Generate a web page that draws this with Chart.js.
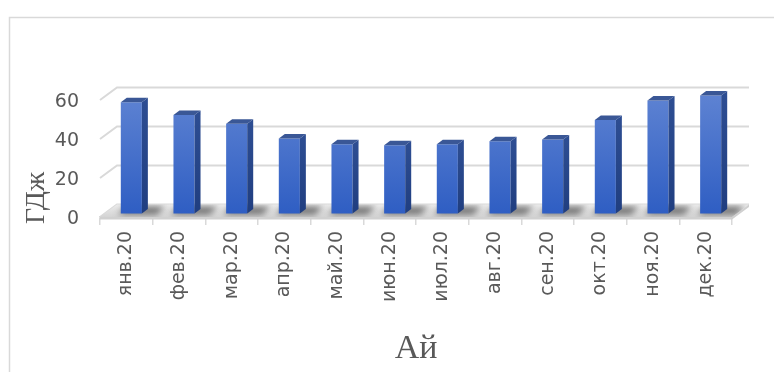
<!DOCTYPE html>
<html>
<head>
<meta charset="utf-8">
<script src="https://cdn.jsdelivr.net/npm/chart.js@4.4.1/dist/chart.umd.min.js"></script>
<style>
  html, body { margin: 0; background: #fff; }
</style>
</head>
<body>
<canvas id="chart" width="774" height="372"></canvas>
<script>
const months = ['янв.20', 'фев.20', 'мар.20', 'апр.20', 'май.20', 'июн.20',
                'июл.20', 'авг.20', 'сен.20', 'окт.20', 'ноя.20', 'дек.20'];
const energy = [57, 50.5, 46, 38.5, 35.5, 35, 35.5, 37, 38, 48, 58, 60.5];
const yTicks = [0, 20, 40, 60];
const yTitle = 'ГДж';
const xTitle = 'Ай';

// fake 3d: offsets of the back wall and of the bar slab from the front plane
const WALL = { dx: 17, dy: -12.5 };
const BAR_FRONT = { dx: 5, dy: -3.5 };
const BAR_DEPTH = { dx: 6, dy: -4.5 };
const GRID = '#d9d9d9';
const TEXT = '#595959';

const poly = (ctx, pts) => {
    ctx.beginPath();
    ctx.moveTo(pts[0][0], pts[0][1]);
    for (let i = 1; i < pts.length; i++) ctx.lineTo(pts[i][0], pts[i][1]);
    ctx.closePath();
};

const box3d = {
    id: 'box3d',
    beforeDraw(chart) {
        const ctx = chart.ctx;
        ctx.save();
        ctx.strokeStyle = GRID;
        ctx.lineWidth = 1.5;
        ctx.strokeRect(9.5, 17.5, 900, 500);
        ctx.restore();
    },
    beforeDatasetsDraw(chart) {
        const { ctx, chartArea: a, scales: { y } } = chart;
        const bottom = y.getPixelForValue(0);
        ctx.save();

        // back wall + left wall grid lines
        ctx.strokeStyle = GRID;
        ctx.lineWidth = 2;
        yTicks.forEach(v => {
            const py = y.getPixelForValue(v);
            ctx.beginPath();
            ctx.moveTo(a.left, py);
            ctx.lineTo(a.left + WALL.dx, py + WALL.dy);
            ctx.lineTo(a.right + WALL.dx, py + WALL.dy);
            ctx.stroke();
        });

        // floor
        const floor = [[a.left, bottom], [a.right, bottom],
                       [a.right + WALL.dx, bottom + WALL.dy], [a.left + WALL.dx, bottom + WALL.dy]];
        const fg = ctx.createLinearGradient(0, bottom + WALL.dy, 0, bottom);
        fg.addColorStop(0, '#ececec');
        fg.addColorStop(1, '#d4d4d4');
        ctx.fillStyle = fg;
        poly(ctx, floor);
        ctx.fill();
        ctx.fillStyle = '#d0d0d0';
        poly(ctx, [[a.left, bottom], [a.right, bottom], [a.right + WALL.dx, bottom + WALL.dy],
                   [a.right + WALL.dx, bottom + WALL.dy + 2.5], [a.right, bottom + 2.5], [a.left, bottom + 2.5]]);
        ctx.fill();

        // bar shadows on the floor
        ctx.save();
        poly(ctx, floor);
        ctx.clip();
        ctx.filter = 'blur(3px)';
        ctx.fillStyle = 'rgba(40,40,40,0.6)';
        chart.getDatasetMeta(0).data.forEach(bar => {
            const { x, width } = bar.getProps(['x', 'width'], true);
            const xl = x - width / 2 + BAR_FRONT.dx;
            const xr = x + width / 2 + BAR_FRONT.dx;
            const by = bottom + BAR_FRONT.dy;
            poly(ctx, [[xl - 3, by + 1], [xr + 15, by + 1], [xr + 23, by - 7], [xl + 5, by - 7]]);
            ctx.fill();
        });
        ctx.restore();

        ctx.restore();
        // bars' front faces are drawn by chart.js, shifted into the floor
        ctx.save();
        ctx.translate(BAR_FRONT.dx, BAR_FRONT.dy);
    },
    afterDatasetsDraw(chart) {
        const ctx = chart.ctx;
        ctx.restore();
        ctx.save();
        chart.getDatasetMeta(0).data.forEach(bar => {
            const { x, y, base, width } = bar.getProps(['x', 'y', 'base', 'width'], true);
            const l = x - width / 2 + BAR_FRONT.dx;
            const r = x + width / 2 + BAR_FRONT.dx;
            const t = y + BAR_FRONT.dy;
            const b = base + BAR_FRONT.dy;
            const sg = ctx.createLinearGradient(0, t, 0, b);
            sg.addColorStop(0, '#2d4d92');
            sg.addColorStop(1, '#203e80');
            ctx.fillStyle = sg;
            poly(ctx, [[r, t], [r + BAR_DEPTH.dx, t + BAR_DEPTH.dy], [r + BAR_DEPTH.dx, b + BAR_DEPTH.dy], [r, b]]);
            ctx.fill();
            ctx.fillStyle = '#3a5796';
            poly(ctx, [[l, t], [r, t], [r + BAR_DEPTH.dx, t + BAR_DEPTH.dy], [l + BAR_DEPTH.dx, t + BAR_DEPTH.dy]]);
            ctx.fill();
        });
        ctx.restore();
    },
    afterDraw(chart) {
        const { ctx, chartArea: a } = chart;
        ctx.save();
        ctx.fillStyle = TEXT;
        ctx.textAlign = 'center';
        ctx.textBaseline = 'middle';
        ctx.font = '28px "Liberation Serif"';
        ctx.translate(37, 198);
        ctx.rotate(-Math.PI / 2);
        ctx.fillText(yTitle, 0, 0);
        ctx.restore();
        ctx.save();
        ctx.fillStyle = TEXT;
        ctx.textAlign = 'center';
        ctx.textBaseline = 'alphabetic';
        ctx.font = '34px "Liberation Serif"';
        ctx.fillText(xTitle, (a.left + a.right) / 2, 358);
        ctx.restore();
    }
};

new Chart(document.getElementById('chart'), {
    type: 'bar',
    data: {
        labels: months,
        datasets: [{
            data: energy,
            clip: false,
            categoryPercentage: 1,
            barPercentage: 0.4,
            backgroundColor: c => {
                const { ctx, chartArea } = c.chart;
                if (!chartArea) return '#4472c4';
                const g = ctx.createLinearGradient(0, chartArea.top, 0, chartArea.bottom);
                g.addColorStop(0, '#5d82d2');
                g.addColorStop(1, '#2f5ec3');
                return g;
            }
        }]
    },
    options: {
        responsive: false,
        animation: false,
        devicePixelRatio: 1,
        layout: { padding: { left: 0, top: 100, right: 42, bottom: 0 } },
        plugins: { legend: { display: false }, tooltip: { enabled: false } },
        scales: {
            x: {
                afterFit: s => { s.height = 155; },
                grid: { drawOnChartArea: false, offset: true, color: GRID, lineWidth: 1.5, tickLength: 8 },
                border: { display: true, color: GRID, width: 1.5 },
                ticks: {
                    autoSkip: false, minRotation: 90, maxRotation: 90, padding: 6,
                    color: TEXT, font: { family: 'DejaVu Sans', size: 19 }
                }
            },
            y: {
                min: 0, max: 60,
                afterFit: s => { s.width = 100; },
                afterBuildTicks: s => { s.ticks = yTicks.map(v => ({ value: v })); },
                grid: { display: false, drawTicks: false },
                border: { display: false },
                ticks: { padding: 21, labelOffset: 2, color: TEXT, font: { family: 'DejaVu Sans', size: 19 } }
            }
        }
    },
    plugins: [box3d]
});
</script>
</body>
</html>
